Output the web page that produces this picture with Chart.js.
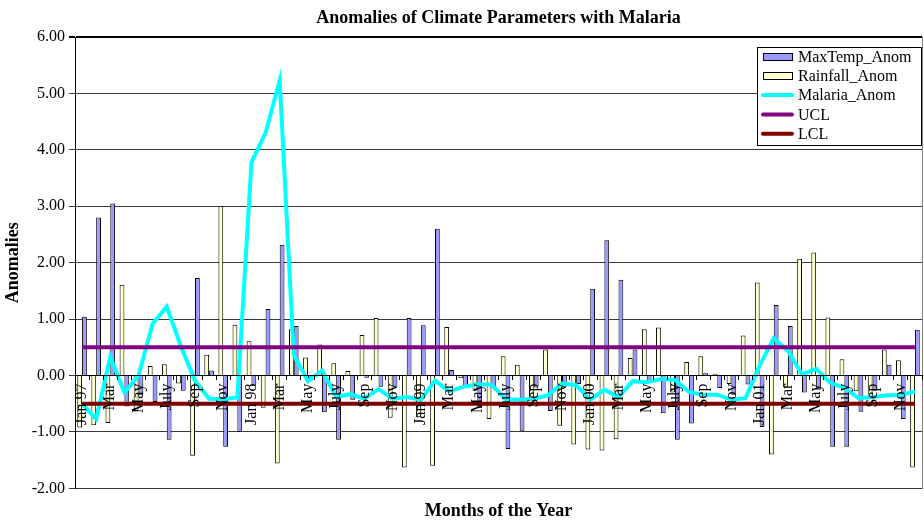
<!DOCTYPE html>
<html>
<head>
<meta charset="utf-8">
<title>Anomalies of Climate Parameters with Malaria</title>
<script src="https://cdn.jsdelivr.net/npm/chart.js@4.4.1/dist/chart.umd.min.js"></script>
<style>
  html, body { margin: 0; padding: 0; background: #fff; }
  #wrap { width: 924px; height: 522px; }
</style>
</head>
<body>
<div id="wrap"><canvas id="chart" width="924" height="522"></canvas></div>
<script>
// Monthly categories, Jan 1997 - Dec 2001
const months = [
  'Jan 97','Feb','Mar','Apr','May','June','July','Aug','Sep','Oct','Nov','Dec',
  'Jan 98','Feb','Mar','Apr','May','June','July','Aug','Sep','Oct','Nov','Dec',
  'Jan 99','Feb','Mar','Apr','May','June','July','Aug','Sep','Oct','Nov','Dec',
  'Jan 00','Feb','Mar','Apr','May','June','July','Aug','Sep','Oct','Nov','Dec',
  'Jan 01','Feb','Mar','Apr','May','June','July','Aug','Sep','Oct','Nov','Dec'
];

// Standardised anomalies per month
const maxTempAnom = [
  1.04, 2.80, 3.05, -0.55, -0.35, -0.47, -1.14, -0.27, 1.73, 0.09, -1.26, -1.00,
  -0.18, 1.18, 2.32, 0.88, -0.05, -0.65, -1.14, -0.43, -0.04, -0.20, -0.20, 1.02,
  0.89, 2.60, 0.10, -0.19, -0.58, -0.22, -1.30, -0.98, -0.21, -0.63, -0.20, -0.15,
  1.54, 2.40, 1.70, 0.46, -0.10, -0.67, -1.14, -0.85, 0.04, -0.22, -0.34, -0.16,
  -0.91, 1.25, 0.88, -0.30, -0.25, -1.26, -1.26, -0.64, -0.27, 0.19, -0.77, 0.81
];
const rainfallAnom = [
  -0.92, -0.88, -0.84, 1.61, -0.63, 0.17, 0.20, -0.14, -1.42, 0.37, 3.01, 0.90,
  0.61, -0.57, -1.56, 0.82, 0.32, 0.55, 0.22, 0.08, 0.72, 1.02, -0.75, -1.63,
  -0.74, -1.60, 0.86, -0.05, -0.27, -0.77, 0.34, 0.19, -0.44, 0.46, -0.89, -1.22,
  -1.31, -1.33, -1.13, 0.31, 0.82, 0.85, -0.30, 0.24, 0.34, 0.03, -0.15, 0.71,
  1.65, -1.40, -0.21, 2.07, 2.18, 1.03, 0.29, -0.28, -0.40, 0.46, 0.27, -1.63
];
const malariaAnom = [
  -0.50, -0.77, 0.33, -0.30, 0.00, 0.92, 1.22, 0.52, -0.09, -0.41, -0.42, -0.39,
  3.78, 4.30, 5.23, 0.36, -0.10, 0.09, -0.38, -0.33, -0.41, -0.24, -0.41, -0.38,
  -0.43, -0.09, -0.28, -0.20, -0.16, -0.16, -0.42, -0.43, -0.41, -0.35, -0.14, -0.17,
  -0.43, -0.25, -0.38, -0.10, -0.12, -0.06, -0.08, -0.29, -0.34, -0.34, -0.43, -0.40,
  0.18, 0.66, 0.44, 0.02, 0.12, -0.13, -0.22, -0.40, -0.38, -0.35, -0.35, -0.28
];

// Control limits
const UCL = 0.5;
const LCL = -0.5;

// Value axis range
const yMin = -2, yMax = 6, yStep = 1;

const serif = '"Liberation Serif", "Times New Roman", serif';

// Framed legend in the upper right corner of the plot
const legendBox = {
  id: 'legendBox',
  afterDraw(chart) {
    const { ctx, chartArea } = chart;
    const items = chart.data.datasets;
    ctx.save();
    ctx.font = '16px ' + serif;
    const textW = Math.max(...items.map(d => ctx.measureText(d.label).width));
    const rowH = 19.3;
    const symW = 29;
    const right = Math.round(chartArea.right) - 1;
    const top = Math.round(chartArea.top) + 10;
    const left = Math.round(right - (6 + symW + 6 + textW + 9));
    const h = Math.round(items.length * rowH + 1);
    ctx.fillStyle = '#fff';
    ctx.fillRect(left, top, right - left, h);
    ctx.strokeStyle = '#000';
    ctx.lineWidth = 1;
    ctx.strokeRect(left + 0.5, top + 0.5, right - left, h);
    items.forEach((d, i) => {
      const y = top + 9.5 + i * rowH;
      const sx = left + 6;
      if (d.type === 'line') {
        ctx.strokeStyle = d.borderColor;
        ctx.lineWidth = 4;
        ctx.lineCap = 'round';
        ctx.beginPath();
        ctx.moveTo(sx, y);
        ctx.lineTo(sx + symW, y);
        ctx.stroke();
      } else {
        ctx.fillStyle = d.backgroundColor;
        ctx.fillRect(sx, Math.round(y - 3.5), symW, 7);
        ctx.strokeStyle = '#000';
        ctx.lineWidth = 1;
        ctx.strokeRect(sx + 0.5, Math.round(y - 3.5) + 0.5, symW, 7);
      }
      ctx.fillStyle = '#000';
      ctx.textBaseline = 'middle';
      ctx.textAlign = 'left';
      ctx.fillText(d.label, sx + symW + 6, y + 1);
    });
    ctx.restore();
  }
};

// Grey frame around the plot area
const plotFrame = {
  id: 'plotFrame',
  beforeDraw(chart) {
    const { ctx, chartArea: a } = chart;
    ctx.save();
    ctx.strokeStyle = '#808080';
    ctx.lineWidth = 1;
    ctx.strokeRect(Math.round(a.left) + 0.5, Math.round(a.top) + 0.5,
                   Math.round(a.right - a.left), Math.round(a.bottom - a.top));
    ctx.restore();
  }
};

new Chart(document.getElementById('chart'), {
  type: 'bar',
  data: {
    labels: months,
    datasets: [
      {
        type: 'bar', label: 'MaxTemp_Anom', data: maxTempAnom,
        backgroundColor: '#9999FF', borderColor: '#000', borderWidth: 1,
        categoryPercentage: 0.68, barPercentage: 1.0, order: 4
      },
      {
        type: 'bar', label: 'Rainfall_Anom', data: rainfallAnom,
        backgroundColor: '#FFFFCC', borderColor: '#000', borderWidth: 1,
        categoryPercentage: 0.68, barPercentage: 1.0, order: 3
      },
      {
        type: 'line', label: 'Malaria_Anom', data: malariaAnom,
        borderColor: '#00FFFF', backgroundColor: '#00FFFF', borderWidth: 4,
        pointRadius: 0, tension: 0, fill: false, order: 2
      },
      {
        type: 'line', label: 'UCL', data: months.map(() => UCL),
        borderColor: '#800080', backgroundColor: '#800080', borderWidth: 4,
        pointRadius: 0, tension: 0, fill: false, order: 1
      },
      {
        type: 'line', label: 'LCL', data: months.map(() => LCL),
        borderColor: '#800000', backgroundColor: '#800000', borderWidth: 4,
        pointRadius: 0, tension: 0, fill: false, order: 0
      }
    ]
  },
  options: {
    responsive: false,
    devicePixelRatio: 1,
    animation: false,
    layout: { padding: { left: 0, right: 2, top: 0, bottom: 0 } },
    plugins: {
      legend: { display: false },
      tooltip: { enabled: false },
      title: {
        display: true,
        text: 'Anomalies of Climate Parameters with Malaria',
        color: '#000',
        fullSize: false,
        font: { family: serif, size: 18, weight: 'bold', lineHeight: 1.2 },
        padding: { top: 8, bottom: 7.4 }
      },
      subtitle: {
        display: true,
        text: 'Months of the Year',
        position: 'bottom',
        color: '#000',
        fullSize: false,
        font: { family: serif, size: 18, weight: 'bold', lineHeight: 1.2 },
        padding: { top: 12, bottom: 0 }
      }
    },
    scales: {
      x: {
        type: 'category',
        position: { y: 0 },
        offset: true,
        grid: {
          display: true, offset: true, drawOnChartArea: false, drawTicks: true,
          tickLength: 4, color: '#000', lineWidth: 1, z: 1
        },
        border: { display: true, color: '#000', width: 1, z: 1 },
        ticks: {
          autoSkip: false, minRotation: 90, maxRotation: 90, padding: 4, z: 1,
          color: '#000',
          font: { family: serif, size: 16 },
          callback: (v, i) => (i % 2 === 0 ? months[i] : '')
        },
        afterFit: (s) => { s.paddingLeft = 0; s.paddingRight = 0; }
      },
      y: {
        min: yMin, max: yMax,
        afterFit: (s) => { s.width = 75; },
        grid: {
          color: (c) => (c.tick && c.tick.value === yMax ? '#000' : '#3a3a3a'),
          lineWidth: (c) => (c.tick && c.tick.value === yMax ? 2 : 1),
          tickLength: 6, drawTicks: true
        },
        border: { display: true, color: '#000', width: 1 },
        ticks: {
          stepSize: yStep, padding: 4, color: '#000',
          font: { family: serif, size: 16 },
          callback: (v) => Number(v).toFixed(2)
        },
        title: {
          display: true, text: 'Anomalies', color: '#000',
          font: { family: serif, size: 18, weight: 'bold', lineHeight: 1.2 },
          padding: { top: 3, bottom: 0 }
        }
      }
    }
  },
  plugins: [plotFrame, legendBox]
});
</script>
</body>
</html>
